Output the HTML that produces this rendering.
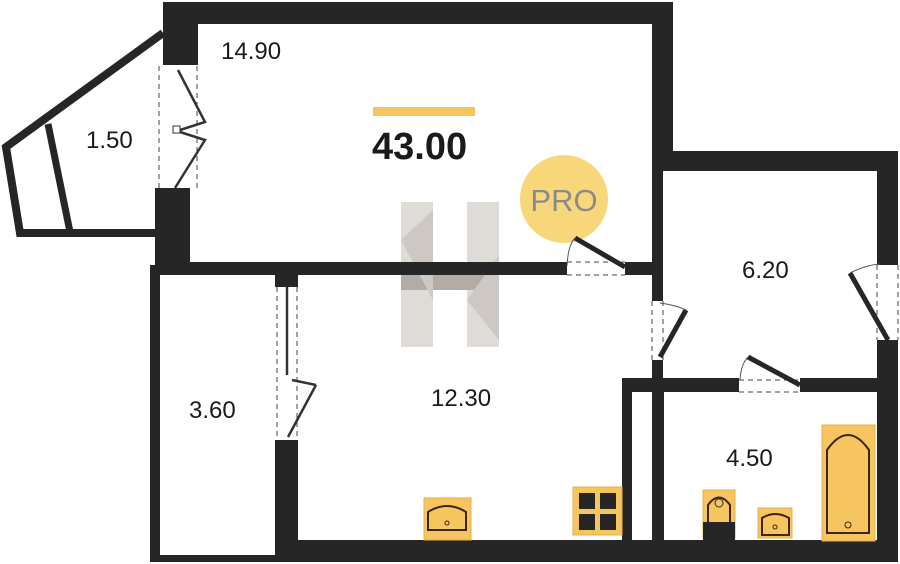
<!DOCTYPE html>
<html><head><meta charset="utf-8"><style>
html,body{margin:0;padding:0;background:#fff;}
svg{display:block;}
text{font-family:"Liberation Sans",sans-serif;}
</style></head><body>
<svg width="900" height="564" viewBox="0 0 900 564" xmlns="http://www.w3.org/2000/svg">
<rect width="900" height="564" fill="#fff"/>
<g opacity="0.65">
<rect x="401" y="202" width="32" height="145" fill="#cfc8c2"/>
<rect x="467" y="202" width="32" height="145" fill="#cfc8c2"/>
<rect x="401" y="262" width="98" height="28" fill="#8a7f77"/>
<polygon points="401,240 433,210 433,300" fill="#b5aca5"/>
<polygon points="467,300 499,255 499,340" fill="#b5aca5"/>
</g>
<circle cx="564" cy="199" r="44" fill="#f8d77a"/>
<text x="564" y="211" font-size="31" fill="#8a8a8a" text-anchor="middle">PRO</text>
<g fill="#262626">
<rect x="163" y="2" width="510" height="22"/>
<rect x="163" y="2" width="35" height="63"/>
<rect x="652" y="2" width="21" height="152"/>
<rect x="155" y="188" width="35" height="87"/>
<rect x="155" y="262" width="412" height="13"/>
<rect x="625" y="262" width="37" height="13"/>
<rect x="652" y="151" width="246" height="20"/>
<rect x="652" y="151" width="11" height="150"/>
<rect x="652" y="360" width="11" height="25"/>
<rect x="877" y="151" width="21" height="114"/>
<rect x="877" y="340" width="21" height="222"/>
<rect x="622" y="378" width="117" height="14"/>
<rect x="800" y="378" width="80" height="14"/>
<rect x="622" y="378" width="10" height="165"/>
<rect x="652" y="378" width="12" height="165"/>
<polygon points="150,265 160,265 160,555 150,562"/>
<rect x="150" y="555" width="130" height="7"/>
<rect x="275" y="275" width="23" height="12"/>
<rect x="275" y="440" width="23" height="122"/>
<rect x="275" y="540" width="623" height="22"/>
</g>
<polyline points="163,33 6,147 20,233 155,233" fill="none" stroke="#262626" stroke-width="8" stroke-linejoin="miter"/>
<line x1="48" y1="124" x2="70" y2="232" stroke="#262626" stroke-width="7"/>
<g stroke="#444" stroke-width="1" fill="none" stroke-dasharray="5,4">
<line x1="159" y1="66" x2="159" y2="188"/><line x1="197" y1="66" x2="197" y2="188"/>
<line x1="277" y1="287" x2="277" y2="440"/><line x1="297" y1="287" x2="297" y2="440"/>
<line x1="567" y1="262" x2="625" y2="262"/><line x1="567" y1="275" x2="625" y2="275"/>
<line x1="652" y1="301" x2="652" y2="360"/><line x1="663" y1="301" x2="663" y2="360"/>
<line x1="877" y1="265" x2="877" y2="340"/><line x1="898" y1="265" x2="898" y2="340"/>
<line x1="739" y1="380" x2="800" y2="380"/><line x1="739" y1="392" x2="800" y2="392"/>
</g>
<g stroke="#333" stroke-width="2.5" fill="none">
<polyline points="178,70 205,122 180,130"/>
<polyline points="180,132 205,140 175,188"/>
<line x1="287" y1="287" x2="287" y2="375"/>
<line x1="292" y1="380" x2="316" y2="385"/>
<line x1="316" y1="385" x2="288" y2="437"/>
</g>
<rect x="173" y="126" width="7" height="7" fill="#fff" stroke="#333"/>
<g stroke="#262626" stroke-width="5">
<line x1="575" y1="238" x2="625" y2="267"/>
<line x1="686" y1="310" x2="660" y2="357"/>
<line x1="850" y1="273" x2="888" y2="340"/>
<line x1="748" y1="357" x2="800" y2="385"/>
</g>
<g stroke="#555" stroke-width="1" fill="none">
<path d="M567,266 Q568,245 575,238"/>
<path d="M660,303 Q676,305 686,310"/>
<path d="M850,273 Q866,265 880,264"/>
<path d="M740,380 Q741,364 748,357"/>
</g>
<g stroke="#3a2616" stroke-width="2">
<rect x="424" y="498" width="47" height="42" fill="#f6c560" stroke="#e6b050" stroke-width="1"/>
<path d="M428,530 L428,512 Q447,500 466,512 L466,530 Z" fill="#f6c560"/>
<circle cx="447" cy="523" r="2" fill="none" stroke-width="1"/>
<rect x="573" y="487" width="49" height="48" fill="#f6c560" stroke="#e6b050" stroke-width="1"/>
<rect x="703" y="490" width="32" height="48" fill="#f6c560" stroke="#e6b050" stroke-width="1"/>
<rect x="703" y="522" width="32" height="18" fill="#262626" stroke="none"/>
<path d="M708,522 L708,505 Q719,490 730,505 L730,522" fill="#f6c560"/>
<circle cx="719" cy="503" r="4" fill="none" stroke-width="1"/>
<rect x="758" y="508" width="34" height="30" fill="#f6c560" stroke="#e6b050" stroke-width="1"/>
<path d="M762,535 L762,518 Q775,510 789,518 L789,535 Z" fill="#f6c560"/>
<circle cx="775" cy="527" r="2" fill="none" stroke-width="1"/>
<rect x="822" y="425" width="53" height="116" fill="#f6c560" stroke="#e6b050" stroke-width="1"/>
<path d="M827,533 L827,450 Q848,420 869,450 L869,533 Z" fill="#f6c560"/>
<circle cx="848" cy="525" r="3" fill="none" stroke-width="1"/>
</g>
<g fill="#262626">
<rect x="579" y="493" width="16" height="16"/><rect x="600" y="493" width="16" height="16"/>
<rect x="579" y="514" width="16" height="16"/><rect x="600" y="514" width="16" height="16"/>
</g>
<rect x="373" y="107" width="102" height="9" fill="#f6c560"/>
<text x="372" y="159" font-size="38" font-weight="bold" fill="#1a1a1a">43.00</text>
<g font-size="24" fill="#1a1a1a">
<text x="221" y="59">14.90</text>
<text x="86" y="148">1.50</text>
<text x="189" y="418">3.60</text>
<text x="431" y="406">12.30</text>
<text x="742" y="278">6.20</text>
<text x="726" y="466">4.50</text>
</g>
</svg>
</body></html>
